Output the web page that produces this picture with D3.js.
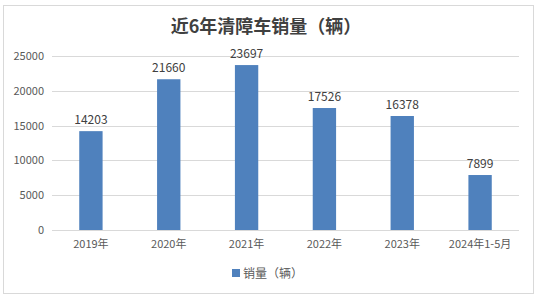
<!DOCTYPE html>
<html>
<head>
<meta charset="utf-8">
<script src="https://cdn.jsdelivr.net/npm/d3@7"></script>
<style>
  body { margin: 0; background: #fff; }
  text { font-family: "Noto Sans CJK SC", "DejaVu Sans", sans-serif; }
</style>
</head>
<body>
<div id="chart"></div>
<script>
const categories = ["2019年", "2020年", "2021年", "2022年", "2023年", "2024年1-5月"];
const sales = [14203, 21660, 23697, 17526, 16378, 7899];
const yTicks = [0, 5000, 10000, 15000, 20000, 25000];
const title = "近6年清障车销量（辆）";
const seriesName = "销量（辆）";

const width = 539, height = 300;
const plot = { left: 52, right: 519, top: 56, bottom: 230 };

const svg = d3.select("#chart").append("svg")
  .attr("width", width).attr("height", height);

// outer frame
svg.append("rect")
  .attr("x", 3.5).attr("y", 5.5)
  .attr("width", 530).attr("height", 288)
  .attr("fill", "#fff").attr("stroke", "#d9d9d9");

svg.append("text")
  .attr("x", 266).attr("y", 33)
  .attr("text-anchor", "middle")
  .attr("font-size", 18).attr("font-weight", "bold")
  .attr("fill", "#404040")
  .text(title);

const x = d3.scaleBand()
  .domain(categories)
  .range([plot.left, plot.right])
  .paddingInner(0.7).paddingOuter(0.35);

const y = d3.scaleLinear()
  .domain([0, 25000])
  .range([plot.bottom, plot.top]);

// gridlines
svg.append("g").selectAll("line")
  .data(yTicks)
  .join("line")
  .attr("x1", plot.left).attr("x2", plot.right)
  .attr("y1", d => Math.round(y(d)) + 0.5).attr("y2", d => Math.round(y(d)) + 0.5)
  .attr("stroke", "#d9d9d9");

// y tick labels
svg.append("g").selectAll("text")
  .data(yTicks)
  .join("text")
  .attr("x", 44).attr("y", d => y(d) + 4)
  .attr("text-anchor", "end")
  .attr("font-size", 11).attr("fill", "#595959")
  .text(d => d);

// bars
svg.append("g").selectAll("rect")
  .data(sales)
  .join("rect")
  .attr("x", (d, i) => x(categories[i]))
  .attr("width", x.bandwidth())
  .attr("y", d => y(d))
  .attr("height", d => y(0) - y(d))
  .attr("fill", "#4f81bd");

// value labels
svg.append("g").selectAll("text")
  .data(sales)
  .join("text")
  .attr("x", (d, i) => x(categories[i]) + x.bandwidth() / 2)
  .attr("y", d => y(d) - 7)
  .attr("text-anchor", "middle")
  .attr("font-size", 12).attr("fill", "#404040")
  .text(d => d);

// x labels
svg.append("g").selectAll("text")
  .data(categories)
  .join("text")
  .attr("x", d => x(d) + x.bandwidth() / 2)
  .attr("y", 248)
  .attr("text-anchor", "middle")
  .attr("font-size", 11).attr("fill", "#595959")
  .text(d => d);

// legend
const lg = svg.append("g").attr("transform", "translate(232,269)");
lg.append("rect").attr("width", 8).attr("height", 8).attr("fill", "#4f81bd");
lg.append("text")
  .attr("x", 11).attr("y", 9)
  .attr("font-size", 12).attr("fill", "#595959")
  .text(seriesName);
</script>
</body>
</html>
